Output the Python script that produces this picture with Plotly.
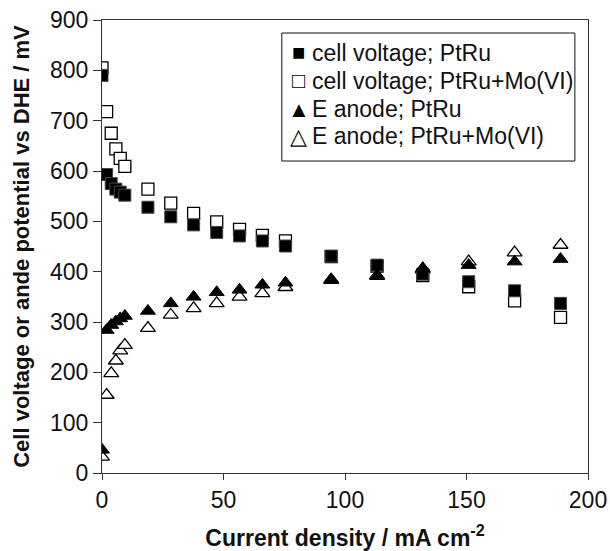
import plotly.graph_objects as go

# Current density (mA cm^-2)
x_vals = [0, 1.9, 3.8, 5.7, 7.5, 9.4, 18.9, 28.3, 37.7, 47.2, 56.6, 66.0, 75.5,
          94.3, 113.2, 132.0, 150.9, 169.8, 188.7]

# Cell voltage, PtRu (mV)
cell_ptru = [790, 593, 575, 564, 558, 552, 528, 509, 493, 478, 471, 461, 451,
             431, 413, 395, 380, 362, 337]
# Cell voltage, PtRu+Mo(VI) (mV)
cell_ptru_mo = [805, 718, 675, 644, 625, 609, 564, 536, 516, 499, 484, 472, 461,
                430, 411, 392, 370, 342, 309]
# Anode potential, PtRu (mV vs DHE)
anode_ptru = [46, 284, 294, 301, 307, 312, 322, 337, 350, 359, 364, 374, 378,
              385, 393, 407, 413, 420, 425]
# Anode potential, PtRu+Mo(VI) (mV vs DHE)
anode_ptru_mo = [32, 155, 198, 223, 243, 254, 288, 314, 327, 337, 350, 357, 369,
                 383, 391, 404, 420, 438, 453]

names = ["cell voltage; PtRu", "cell voltage; PtRu+Mo(VI)",
         "E anode; PtRu", "E anode; PtRu+Mo(VI)"]
legend_glyphs = ["\u25A0", "\u25A1", "\u25B2", "\u25B3"]

x_ticks = [0, 50, 100, 150, 200]
y_ticks = [0, 100, 200, 300, 400, 500, 600, 700, 800, 900]

FONT = "Liberation Sans, Arial, sans-serif"
TXT = "#111"

fig = go.Figure()

# open markers drawn first so filled markers sit on top
fig.add_trace(go.Scatter(x=x_vals, y=cell_ptru_mo, mode="markers", name=names[1],
                         marker=dict(symbol="square", size=12, color="white",
                                     line=dict(color="black", width=1.3))))
fig.add_trace(go.Scatter(x=x_vals, y=anode_ptru_mo, mode="markers", name=names[3],
                         marker=dict(symbol="triangle-up", size=13, color="white",
                                     line=dict(color="black", width=1.3))))
fig.add_trace(go.Scatter(x=x_vals, y=cell_ptru, mode="markers", name=names[0],
                         marker=dict(symbol="square", size=12, color="black",
                                     line=dict(color="#444", width=1))))
fig.add_trace(go.Scatter(x=x_vals, y=anode_ptru, mode="markers", name=names[2],
                         marker=dict(symbol="triangle-up", size=13, color="black",
                                     line=dict(color="black", width=1))))

# legend box drawn as a framed panel with glyph + label rows
legend_box = dict(x0=0.370, x1=0.973, y0=0.6887, y1=0.9713)
row_y = [0.9272, 0.8654, 0.8035, 0.7439]
glyph_x = 0.4053
label_x = 0.4280

shapes = [dict(type="rect", xref="paper", yref="paper", layer="above",
               line=dict(color="#111", width=1), fillcolor="white", **legend_box)]
annotations = []
for g, n, yy in zip(legend_glyphs, names, row_y):
    annotations.append(dict(xref="paper", yref="paper", x=glyph_x, y=yy,
                            xanchor="center", yanchor="middle", showarrow=False,
                            text=g, font=dict(family=FONT, size=22, color="black")))
    annotations.append(dict(xref="paper", yref="paper", x=label_x, y=yy,
                            xanchor="left", yanchor="middle", showarrow=False,
                            text=n, font=dict(family=FONT, size=23, color=TXT)))

fig.update_layout(
    width=610, height=551,
    margin=dict(l=102, r=22, t=20, b=78, autoexpand=False),
    paper_bgcolor="white", plot_bgcolor="white",
    font=dict(family=FONT, size=23, color=TXT),
    showlegend=False,
    shapes=shapes,
    annotations=annotations,
    xaxis=dict(
        range=[0, 200], tickvals=x_ticks, ticktext=[str(v) for v in x_ticks],
        showline=True, linecolor="#333", linewidth=1.3, mirror=True,
        ticks="outside", ticklen=6, tickcolor="#333", tickwidth=1.3,
        showgrid=False, zeroline=False, automargin=False,
        tickfont=dict(family=FONT, size=23, color=TXT),
        title=dict(text="<b>Current density / mA cm<sup>-2</sup></b>",
                   font=dict(family=FONT, size=23, color=TXT), standoff=22),
    ),
    yaxis=dict(
        range=[0, 900], tickvals=y_ticks, ticktext=[str(v) for v in y_ticks],
        showline=True, linecolor="#333", linewidth=1.3, mirror=True,
        ticks="outside", ticklen=8, tickcolor="#333", tickwidth=1.3,
        showgrid=False, zeroline=False, automargin=False,
        tickfont=dict(family=FONT, size=23, color=TXT),
        title=dict(text="<b>Cell voltage or ande potential vs DHE / mV</b>",
                   font=dict(family=FONT, size=22, color=TXT), standoff=14),
    ),
)

fig.write_html("out.html")
